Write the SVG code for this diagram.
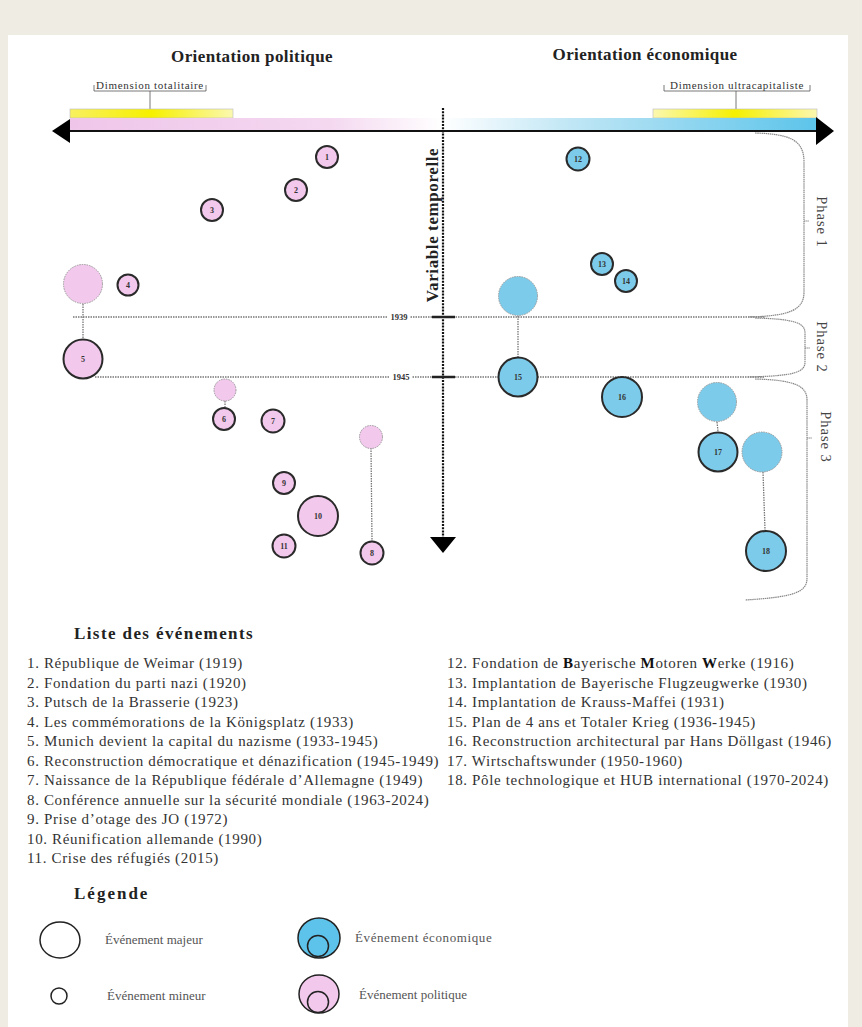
<svg xmlns="http://www.w3.org/2000/svg" width="862" height="1027" viewBox="0 0 862 1027">
<defs>
<style>
.t{font-family:"Liberation Serif",serif;fill:#333}
.title{font-family:"Liberation Serif",serif;font-weight:bold;font-size:17px;fill:#222}
.li{font-family:"Liberation Serif",serif;font-size:15px;letter-spacing:0.65px;fill:#333}
.lg{font-family:"Liberation Serif",serif;font-size:13px;fill:#555}
.num{font-family:"Liberation Serif",serif;font-weight:bold;font-size:8px;fill:#333;text-anchor:middle}
.pol{fill:#f2c8ec;stroke:#2a2a2a;stroke-width:2}
.eco{fill:#7dcbea;stroke:#2a2a2a;stroke-width:2}
.pg{fill:#f2c8ec;stroke:#999;stroke-width:1;stroke-dasharray:1.5 1}
.eg{fill:#7dcbea;stroke:#999;stroke-width:1;stroke-dasharray:1.5 1}
.dot{stroke:#777;stroke-width:1.3;stroke-dasharray:1.5 1;fill:none}
.br{stroke:#888;stroke-width:1.2;fill:none;stroke-dasharray:1.5 0.6}
.ph{font-family:"Liberation Serif",serif;font-size:14.5px;letter-spacing:1px;fill:#444}
.yr{font-family:"Liberation Serif",serif;font-weight:bold;font-size:8.5px;fill:#333}
.dim{font-family:"Liberation Serif",serif;font-size:11px;letter-spacing:0.7px;fill:#333}
</style>
<linearGradient id="gp" x1="0" x2="1" y1="0" y2="0"><stop offset="0" stop-color="#efc6ea"/><stop offset="0.7" stop-color="#f4d8f0"/><stop offset="1" stop-color="#ffffff"/></linearGradient>
<linearGradient id="gb" x1="0" x2="1" y1="0" y2="0"><stop offset="0" stop-color="#ffffff"/><stop offset="0.35" stop-color="#bfe6f5"/><stop offset="1" stop-color="#5cc4ea"/></linearGradient>
<linearGradient id="gy1" x1="0" x2="1" y1="0" y2="0"><stop offset="0" stop-color="#f8f060"/><stop offset="0.5" stop-color="#f6f000"/><stop offset="1" stop-color="#fbf8b0"/></linearGradient>
<linearGradient id="gy2" x1="0" x2="1" y1="0" y2="0"><stop offset="0" stop-color="#fbf8b0"/><stop offset="0.5" stop-color="#f6f000"/><stop offset="1" stop-color="#fbf7b0"/></linearGradient>
</defs>
<rect x="0" y="0" width="862" height="1027" fill="#efece3"/>
<rect x="8" y="35" width="840" height="992" fill="#ffffff"/>

<g id="header">
<text class="title" x="252" y="62" text-anchor="middle" letter-spacing="0.4">Orientation politique</text>
<text class="title" x="645" y="60" text-anchor="middle" letter-spacing="0.4">Orientation économique</text>
<text class="dim" x="150" y="89" text-anchor="middle">Dimension totalitaire</text>
<path d="M94,85 v6 h112 v-6 M150,91 v18" stroke="#555" stroke-width="0.8" fill="none"/>
<text class="dim" x="737" y="89" text-anchor="middle">Dimension ultracapitaliste</text>
<path d="M664,85 v6 h146 v-6 M736,91 v18" stroke="#555" stroke-width="0.8" fill="none"/>
</g>

<g id="axis-bar">
<rect x="70" y="109" width="163" height="9" fill="url(#gy1)" stroke="#bbb" stroke-width="0.6"/>
<rect x="653" y="109" width="164" height="9" fill="url(#gy2)" stroke="#bbb" stroke-width="0.6"/>
<rect x="70" y="118" width="372" height="12" fill="url(#gp)"/>
<rect x="442" y="118" width="375" height="13" fill="url(#gb)"/>
<line x1="66" y1="131" x2="820" y2="131" stroke="#111" stroke-width="2"/>
<polygon points="52,131 70,119 70,143" fill="#000"/>
<polygon points="834,131 816,117 816,145" fill="#000"/>
</g>

<g id="time-axis">
<line x1="443" y1="108" x2="443" y2="537" stroke="#111" stroke-width="2.2" stroke-dasharray="2 1.2"/>
<polygon points="430,537 456,537 443,553" fill="#000"/>
<text class="title" transform="translate(438,225) rotate(-90)" text-anchor="middle" font-size="17" letter-spacing="0.6">Variable temporelle</text>
</g>

<g id="connectors">
<line class="dot" x1="73" y1="317" x2="765" y2="317"/>
<line class="dot" x1="95" y1="377" x2="765" y2="377"/>
<rect x="388" y="312" width="22" height="9" fill="#fff"/>
<text class="yr" x="399" y="320" text-anchor="middle">1939</text>
<rect x="390" y="372" width="22" height="9" fill="#fff"/>
<text class="yr" x="401" y="380" text-anchor="middle">1945</text>
<line x1="432" y1="317" x2="455" y2="317" stroke="#222" stroke-width="2.5"/>
<line x1="432" y1="377" x2="455" y2="377" stroke="#222" stroke-width="2.5"/>
<line class="dot" x1="83" y1="304" x2="83" y2="339"/>
<line class="dot" x1="225" y1="401" x2="225" y2="407"/>
<line class="dot" x1="371" y1="448" x2="372" y2="541"/>
<line class="dot" x1="518" y1="316" x2="518" y2="357"/>
<line class="dot" x1="717" y1="422" x2="718" y2="431"/>
<line class="dot" x1="763" y1="472" x2="765" y2="530"/>
</g>

<g id="phases">
<path class="br" d="M755,133 C790,134 804,140 804,162 L804,292 C804,310 790,316 748,317"/>
<line class="br" x1="804" y1="221" x2="809" y2="221"/>
<path class="br" d="M755,318 C795,319 805,323 805,333 L805,362 C805,372 795,376 748,377"/>
<line class="br" x1="805" y1="348" x2="810" y2="348"/>
<path class="br" d="M755,379 C795,380 807,386 807,400 L807,578 C807,592 795,597 745,600"/>
<line class="br" x1="807" y1="438" x2="812" y2="438"/>
<text class="ph" transform="translate(817,222) rotate(90)" text-anchor="middle">Phase 1</text>
<text class="ph" transform="translate(817,347) rotate(90)" text-anchor="middle">Phase 2</text>
<text class="ph" transform="translate(821,437) rotate(90)" text-anchor="middle">Phase 3</text>
</g>

<g id="ev1"><circle class="pol" cx="327" cy="157" r="11"/><text class="num" x="327" y="160">1</text></g>
<g id="ev2"><circle class="pol" cx="296" cy="190" r="11"/><text class="num" x="296" y="193">2</text></g>
<g id="ev3"><circle class="pol" cx="212" cy="210" r="11"/><text class="num" x="212" y="213">3</text></g>
<g id="ev4"><circle class="pol" cx="128" cy="285" r="10.5"/><text class="num" x="128" y="288">4</text></g>
<g id="ev5-start"><circle class="pg" cx="83" cy="284" r="19.5"/></g>
<g id="ev5"><circle class="pol" cx="83" cy="359" r="19.5"/><text class="num" x="83" y="362">5</text></g>
<g id="ev6-start"><circle class="pg" cx="225" cy="390" r="11"/></g>
<g id="ev6"><circle class="pol" cx="224" cy="419" r="11"/><text class="num" x="224" y="422">6</text></g>
<g id="ev7"><circle class="pol" cx="273" cy="421" r="11.5"/><text class="num" x="273" y="424">7</text></g>
<g id="ev8-start"><circle class="pg" cx="371" cy="437" r="11.5"/></g>
<g id="ev8"><circle class="pol" cx="372" cy="553" r="11.5"/><text class="num" x="372" y="556">8</text></g>
<g id="ev9"><circle class="pol" cx="284" cy="483" r="11"/><text class="num" x="284" y="486">9</text></g>
<g id="ev10"><circle class="pol" cx="318" cy="516" r="20"/><text class="num" x="318" y="519">10</text></g>
<g id="ev11"><circle class="pol" cx="284" cy="546" r="11.5"/><text class="num" x="284" y="549">11</text></g>

<g id="ev12"><circle class="eco" cx="578" cy="159" r="11.5"/><text class="num" x="578" y="162">12</text></g>
<g id="ev13"><circle class="eco" cx="602" cy="264" r="11"/><text class="num" x="602" y="267">13</text></g>
<g id="ev14"><circle class="eco" cx="626" cy="281" r="11"/><text class="num" x="626" y="284">14</text></g>
<g id="ev15-start"><circle class="eg" cx="518" cy="296" r="19.5"/></g>
<g id="ev15"><circle class="eco" cx="518" cy="377" r="19.5"/><text class="num" x="518" y="380">15</text></g>
<g id="ev16"><circle class="eco" cx="622" cy="397" r="20"/><text class="num" x="622" y="400">16</text></g>
<g id="ev17-start"><circle class="eg" cx="717" cy="402" r="19.5"/></g>
<g id="ev17"><circle class="eco" cx="718" cy="452" r="19.5"/><text class="num" x="718" y="455">17</text></g>
<g id="ev18-start"><circle class="eg" cx="762" cy="452" r="20"/></g>
<g id="ev18"><circle class="eco" cx="766" cy="551" r="20"/><text class="num" x="766" y="554">18</text></g>

<g id="event-list">
<text class="title" x="74" y="639" font-size="19" letter-spacing="1.4">Liste des événements</text>
<text class="li" x="27" y="668">1. République de Weimar (1919)</text>
<text class="li" x="27" y="687.5">2. Fondation du parti nazi (1920)</text>
<text class="li" x="27" y="707">3. Putsch de la Brasserie (1923)</text>
<text class="li" x="27" y="726.5">4. Les commémorations de la Königsplatz (1933)</text>
<text class="li" x="27" y="746">5. Munich devient la capital du nazisme (1933-1945)</text>
<text class="li" x="27" y="765.5">6. Reconstruction démocratique et dénazification (1945-1949)</text>
<text class="li" x="27" y="785">7. Naissance de la République fédérale d’Allemagne (1949)</text>
<text class="li" x="27" y="804.5">8. Conférence annuelle sur la sécurité mondiale (1963-2024)</text>
<text class="li" x="27" y="824">9. Prise d’otage des JO (1972)</text>
<text class="li" x="27" y="843.5">10. Réunification allemande (1990)</text>
<text class="li" x="27" y="863">11. Crise des réfugiés (2015)</text>
<text class="li" x="447" y="668">12. Fondation de <tspan font-weight="bold" fill="#111">B</tspan>ayerische <tspan font-weight="bold" fill="#111">M</tspan>otoren <tspan font-weight="bold" fill="#111">W</tspan>erke (1916)</text>
<text class="li" x="447" y="687.5">13. Implantation de Bayerische Flugzeugwerke (1930)</text>
<text class="li" x="447" y="707">14. Implantation de Krauss-Maffei (1931)</text>
<text class="li" x="447" y="726.5">15. Plan de 4 ans et Totaler Krieg (1936-1945)</text>
<text class="li" x="447" y="746">16. Reconstruction architectural par Hans Döllgast (1946)</text>
<text class="li" x="447" y="765.5">17. Wirtschaftswunder (1950-1960)</text>
<text class="li" x="447" y="785">18. Pôle technologique et HUB international (1970-2024)</text>
</g>

<g id="legend">
<text class="title" x="74" y="899" font-size="19" letter-spacing="2">Légende</text>
<g id="lg-major"><ellipse cx="60" cy="940" rx="20" ry="18" fill="#fff" stroke="#222" stroke-width="1.5"/><text class="lg" x="105" y="944">Événement majeur</text></g>
<g id="lg-minor"><circle cx="59" cy="996" r="8" fill="#fff" stroke="#222" stroke-width="1.5"/><text class="lg" x="107" y="1000">Événement mineur</text></g>
<g id="lg-eco"><ellipse cx="319" cy="938" rx="21" ry="20" fill="#5ec3ea" stroke="#222" stroke-width="1.5"/><circle cx="318" cy="946" r="10.5" fill="#5ec3ea" stroke="#222" stroke-width="1.5"/><text class="lg" x="355" y="942" letter-spacing="0.6">Événement économique</text></g>
<g id="lg-pol"><ellipse cx="319" cy="994" rx="20" ry="19" fill="#f2c8ec" stroke="#222" stroke-width="1.5"/><circle cx="318" cy="1002" r="10.5" fill="#f2c8ec" stroke="#222" stroke-width="1.5"/><text class="lg" x="359" y="999">Événement politique</text></g>
</g>
</svg>
